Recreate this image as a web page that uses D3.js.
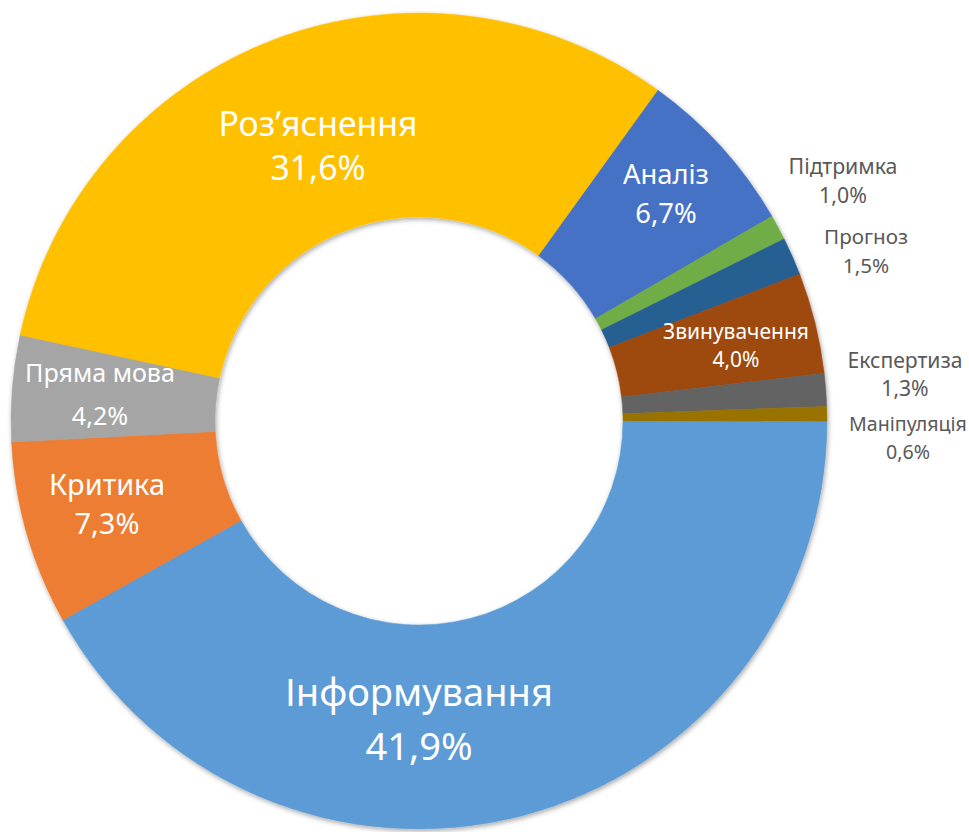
<!DOCTYPE html>
<html>
<head>
<meta charset="utf-8">
<script src="https://cdn.jsdelivr.net/npm/d3@7"></script>
<style>
  body { margin: 0; background: #fff; }
  text { font-family: "Noto Sans", "Open Sans", sans-serif; }
</style>
</head>
<body>
<div id="chartContainer"></div>
<script>
// categories, clockwise starting from the top-right (Аналіз)
const categories = ['Аналіз', 'Підтримка', 'Прогноз', 'Звинувачення', 'Експертиза',
    'Маніпуляція', 'Інформування', 'Критика', 'Пряма мова', "Роз\u2019яснення"];
const values = [6.7, 1.0, 1.5, 4.0, 1.3, 0.6, 41.9, 7.3, 4.2, 31.6];
const valueLabels = ['6,7%', '1,0%', '1,5%', '4,0%', '1,3%', '0,6%', '41,9%', '7,3%', '4,2%', '31,6%'];
const colors = ['#4472C4', '#70AD47', '#255E91', '#9E480E', '#636363',
    '#997300', '#5B9BD5', '#ED7D31', '#A5A5A5', '#FFC000'];

// label placement relative to chart centre: [dx, baseline1, baseline2, target width, inside?]
const labelLayout = [
    [247, -237, -198, 86, true],
    [424, -247, -218, 109, false],
    [447, -177, -148, 84, false],
    [317, -82, -54, 146, true],
    [486, -53, -25, 115, false],
    [489, 10, 38, 118, false],
    [0, 285, 339, 268, true],
    [-312, 74, 113, 116, true],
    [-319, -39, 4, 150, true],
    [-101, -285, -241, 199, true]
];

const svgWidth = 969;
const svgHeight = 832;
const cx = 419;
const cy = 421;
const outerR = 408;
const innerR = 204;
const startDeg = 35.8;

const svg = d3.select('#chartContainer')
    .append('svg')
    .attr('width', svgWidth)
    .attr('height', svgHeight);

const defs = svg.append('defs');
const shadow = defs.append('filter')
    .attr('id', 'shadow')
    .attr('x', '-10%').attr('y', '-10%')
    .attr('width', '120%').attr('height', '120%');
shadow.append('feDropShadow')
    .attr('dx', 1).attr('dy', 2)
    .attr('stdDeviation', 2.5)
    .attr('flood-color', '#000')
    .attr('flood-opacity', 0.35);

const data = categories.map((c, i) => ({ label: c, value: values[i], text: valueLabels[i], color: colors[i], layout: labelLayout[i] }));

const pie = d3.pie()
    .value(d => d.value)
    .sort(null)
    .startAngle(startDeg * Math.PI / 180)
    .endAngle(startDeg * Math.PI / 180 + 2 * Math.PI);

const arc = d3.arc()
    .innerRadius(innerR)
    .outerRadius(outerR);

const chart = svg.append('g')
    .attr('transform', `translate(${cx}, ${cy})`);

chart.append('g')
    .attr('filter', 'url(#shadow)')
    .selectAll('path')
    .data(pie(data))
    .enter().append('path')
    .attr('d', arc)
    .attr('fill', d => d.data.color)
    .attr('stroke', d => d.data.color)
    .attr('stroke-width', 0.5);

const labels = chart.append('g')
    .selectAll('g')
    .data(data)
    .enter().append('g');

labels.each(function (d) {
    const g = d3.select(this);
    const [dx, y1, y2, w, inside] = d.layout;
    const fill = inside ? '#ffffff' : '#595959';
    const t1 = g.append('text')
        .attr('x', dx).attr('y', y1)
        .attr('text-anchor', 'middle')
        .attr('fill', fill)
        .attr('font-size', 20)
        .text(d.label);
    // scale the font so the name matches the width in the original
    const size = 20 * w / t1.node().getComputedTextLength();
    t1.attr('font-size', size);
    g.append('text')
        .attr('x', dx).attr('y', y2)
        .attr('text-anchor', 'middle')
        .attr('fill', fill)
        .attr('font-size', size)
        .text(d.text);
});
</script>
</body>
</html>
